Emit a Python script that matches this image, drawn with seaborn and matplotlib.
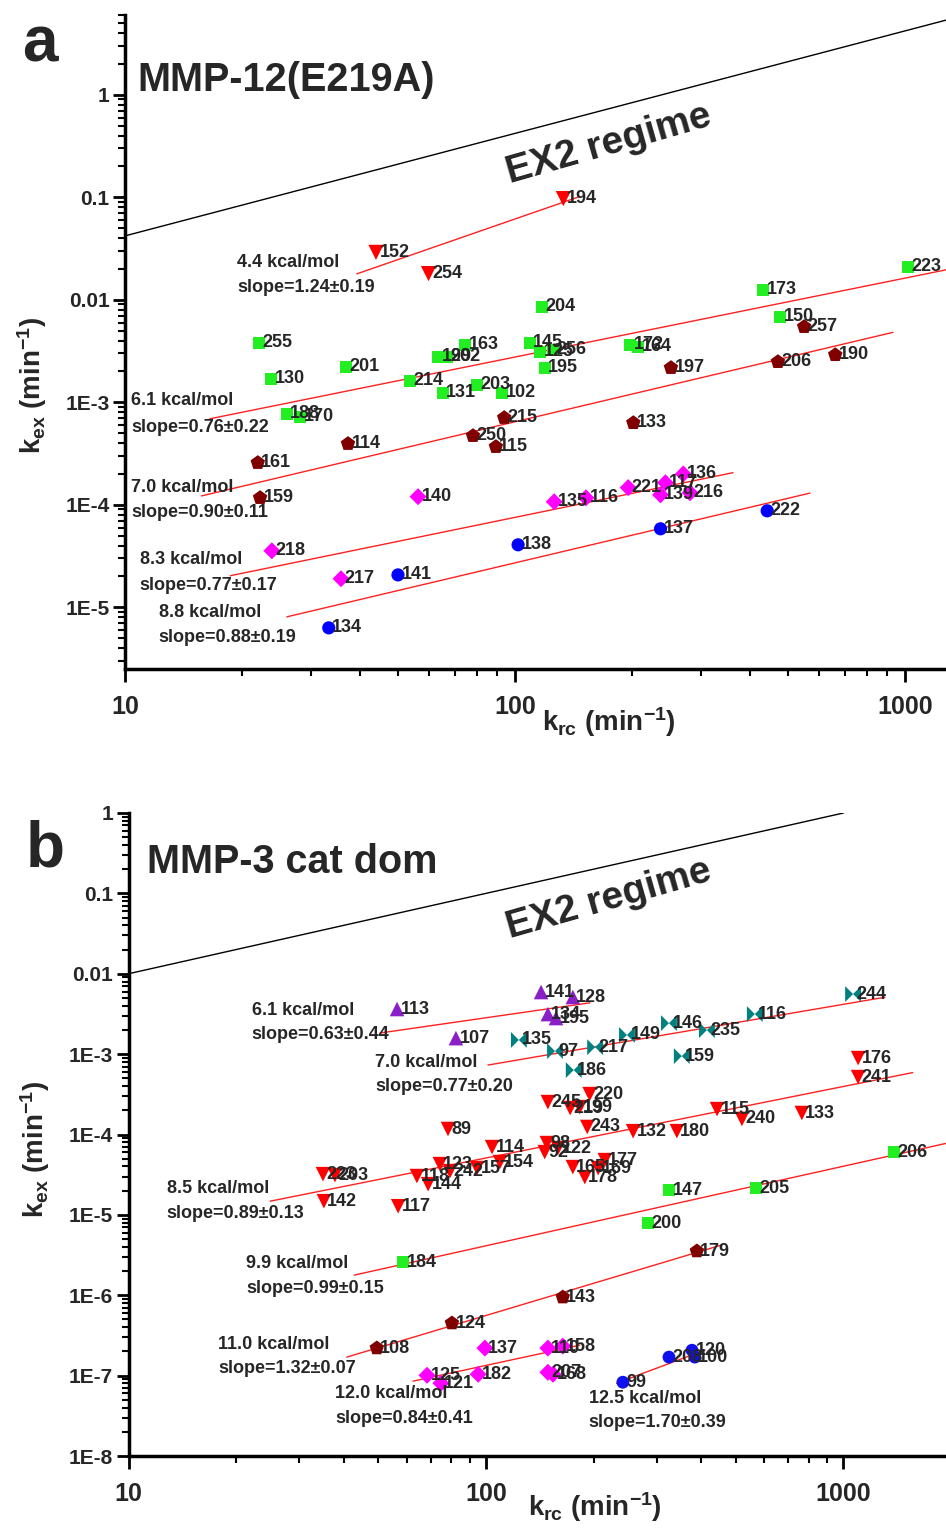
import numpy as np
import pandas as pd
import matplotlib
matplotlib.use("Agg")
import matplotlib.pyplot as plt
from matplotlib.ticker import FixedLocator, LogLocator, FuncFormatter, NullFormatter
import seaborn as sns

# ---------------- panel a : MMP-12(E219A) ----------------
a_group = (["4.4"] * 3 + ["6.1"] * 22 + ["7.0"] * 11 + ["8.3"] * 10 + ["8.8"] * 5)
a_res = [152, 254, 194,
         255, 130, 201, 188, 170, 214, 131, 203, 102, 199, 202, 163, 145, 125, 256, 204, 195, 172, 164, 173, 150, 223,
         161, 159, 114, 215, 250, 115, 133, 197, 206, 190, 257,
         140, 218, 217, 135, 116, 221, 117, 139, 136, 216,
         134, 141, 138, 137, 222]
a_krc = [44, 60, 133,
         22.1, 23.7, 36.9, 26.0, 28.1, 53.8, 65.3, 79.9, 92.7, 63.5, 67.0, 74.5, 109, 116, 125, 117, 119, 197, 207, 432, 478, 1018,
         21.9, 22.2, 37.3, 93.8, 78, 89.3, 201, 251, 472, 662, 551,
         56.4, 23.8, 35.8, 126, 152, 195, 243, 236, 270, 281,
         33.3, 50.1, 101.8, 236, 443]
a_kex = [0.029, 0.018, 0.097,
         3.8e-3, 1.69e-3, 2.22e-3, 7.7e-4, 7.2e-4, 1.62e-3, 1.24e-3, 1.48e-3, 1.24e-3, 2.78e-3, 2.78e-3, 3.64e-3,
         3.8e-3, 3.11e-3, 3.25e-3, 8.55e-3, 2.17e-3, 3.64e-3, 3.48e-3, 1.25e-2, 6.83e-3, 2.1e-2,
         2.57e-4, 1.17e-4, 3.94e-4, 7.06e-4, 4.71e-4, 3.68e-4, 6.3e-4, 2.17e-3, 2.48e-3, 2.9e-3, 5.45e-3,
         1.2e-4, 3.56e-5, 1.9e-5, 1.07e-4, 1.17e-4, 1.47e-4, 1.64e-4, 1.25e-4, 2.0e-4, 1.31e-4,
         6.3e-6, 2.07e-5, 4.07e-5, 5.83e-5, 8.73e-5]

# fit lines: start/end k_rc, k_ex at start, slope
a_fit_x0 = [39.3, 16.5, 15.7, 18.6, 26.0]
a_fit_x1 = [145, 1300, 931, 362, 570]
a_fit_y0 = [0.0179, 6.9e-4, 1.22e-4, 2.03e-5, 8.07e-6]
a_fit_slope = [1.32, 0.77, 0.90, 0.78, 0.90]

a_note1 = ["4.4 kcal/mol", "6.1 kcal/mol", "7.0 kcal/mol", "8.3 kcal/mol", "8.8 kcal/mol"]
a_note2 = ["slope=1.24\u00b10.19", "slope=0.76\u00b10.22", "slope=0.90\u00b10.11",
           "slope=0.77\u00b10.17", "slope=0.88\u00b10.19"]
a_note_x = [19.4, 10.36, 10.36, 10.9, 12.2]
a_note_y1 = [0.023, 1.03e-3, 1.47e-4, 2.9e-5, 8.84e-6]
a_note_y2 = [0.0131, 5.64e-4, 8.36e-5, 1.62e-5, 5.04e-6]

a_ex2_ratio = 0.0042

# ---------------- panel b : MMP-3 cat dom ----------------
b_group = (["6.1"] * 6 + ["7.0"] * 10 + ["8.5"] * 31 + ["9.9"] * 5 + ["11.0"] * 4 + ["12.0"] * 8 + ["12.5"] * 4)
b_res = [113, 107, 141, 128, 134, 195,
         135, 97, 186, 217, 149, 146, 235, 159, 116, 244,
         89, 114, 154, 123, 242, 157, 118, 144, 223, 203, 142, 117, 245, 220, 219, 199, 243, 132, 180, 115,
         240, 133, 98, 92, 122, 165, 177, 169, 178, 176, 241,
         184, 200, 147, 205, 206,
         108, 124, 143, 179,
         125, 121, 182, 137, 110, 158, 207, 168,
         99, 208, 120, 100]
b_krc = [56.4, 82.4, 142.6, 175, 149, 157,
         123.6, 156, 176, 202, 248, 325, 415, 353, 565, 1064,
         78.3, 104, 109.4, 74.3, 79.3, 94.4, 64.1, 68.9, 35, 37.8, 35.2, 56.8, 149, 195, 172, 183, 192, 258, 342, 443,
         520, 765, 148, 146, 159, 175, 215, 206, 189, 1099, 1099,
         58.6, 284, 325, 569, 1384,
         49.5, 80.3, 164, 389,
         68.4, 74.8, 95.1, 99.3, 149, 164, 149, 154,
         241.5, 325, 377, 384]
b_kex = [3.64e-3, 1.58e-3, 5.92e-3, 5.13e-3, 3.15e-3, 2.81e-3,
         1.5e-3, 1.09e-3, 6.33e-4, 1.22e-3, 1.73e-3, 2.43e-3, 1.99e-3, 9.45e-4, 3.15e-3, 5.59e-3,
         1.17e-4, 6.97e-5, 4.54e-5, 4.28e-5, 3.5e-5, 3.82e-5, 3.04e-5, 2.41e-5, 3.21e-5, 3.12e-5, 1.48e-5, 1.28e-5,
         2.53e-4, 3.18e-4, 2.13e-4, 2.19e-4, 1.24e-4, 1.1e-4, 1.1e-4, 2.07e-4, 1.56e-4, 1.85e-4, 7.82e-5, 6.04e-5,
         6.77e-5, 3.93e-5, 4.8e-5, 3.82e-5, 2.95e-5, 8.93e-4, 5.18e-4,
         2.58e-6, 7.89e-6, 2.03e-5, 2.15e-5, 6.04e-5,
         2.2e-7, 4.5e-7, 9.46e-7, 3.54e-6,
         1.01e-7, 8.05e-8, 1.04e-7, 2.2e-7, 2.2e-7, 2.33e-7, 1.1e-7, 1.04e-7,
         8.28e-8, 1.7e-7, 2.07e-7, 1.7e-7]

b_fit_x0 = [50.5, 101.3, 24.9, 42.8, 40.8, 62.5, 232]
b_fit_x1 = [195.4, 1306, 1563, 2000, 457, 183, 410]
b_fit_y0 = [1.83e-3, 7.31e-4, 1.48e-5, 1.78e-6, 1.7e-7, 8.53e-8, 8.05e-8]
b_fit_slope = [0.64, 0.76, 0.89, 0.99, 1.33, 0.96, 1.67]

b_note1 = ["6.1 kcal/mol", "7.0 kcal/mol", "8.5 kcal/mol", "9.9 kcal/mol",
           "11.0 kcal/mol", "12.0 kcal/mol", "12.5 kcal/mol"]
b_note2 = ["slope=0.63\u00b10.44", "slope=0.77\u00b10.20", "slope=0.89\u00b10.13", "slope=0.99\u00b10.15",
           "slope=1.32\u00b10.07", "slope=0.84\u00b10.41", "slope=1.70\u00b10.39"]
b_note_x = [22.1, 49, 12.8, 21.3, 17.8, 37.8, 194]
b_note_y1 = [3.53e-3, 7.96e-4, 2.15e-5, 2.51e-6, 2.46e-7, 6.05e-8, 5.24e-8]
b_note_y2 = [1.73e-3, 4.0e-4, 1.05e-5, 1.22e-6, 1.24e-7, 2.95e-8, 2.64e-8]

b_ex2_ratio = 0.001

# ---------------- styles ----------------
bowtie = [(-1, -1), (-1, 1), (0, 0), (1, 1), (1, -1), (0, 0), (-1, -1)]
a_colors = {"4.4": "#ff0000", "6.1": "#22ee22", "7.0": "#800000", "8.3": "#ff00ff", "8.8": "#0000ff"}
a_markers = {"4.4": "v", "6.1": "s", "7.0": "p", "8.3": "D", "8.8": "o"}
a_sizes = {"4.4": 120, "6.1": 75, "7.0": 120, "8.3": 75, "8.8": 90}
b_colors = {"6.1": "#8a1fc8", "7.0": "#008080", "8.5": "#ff0000", "9.9": "#22ee22",
            "11.0": "#800000", "12.0": "#ff00ff", "12.5": "#1010ee"}
b_markers = {"6.1": "^", "7.0": bowtie, "8.5": "v", "9.9": "s", "11.0": "p", "12.0": "D", "12.5": "o"}
b_sizes = {"6.1": 110, "7.0": 130, "8.5": 110, "9.9": 75, "11.0": 120, "12.0": 75, "12.5": 85}

sns.set_style("ticks")
plt.rcParams["font.family"] = ["Liberation Sans", "DejaVu Sans"]
plt.rcParams["font.weight"] = "bold"
plt.rcParams["mathtext.fontset"] = "custom"
plt.rcParams["mathtext.rm"] = "Liberation Sans:bold"
plt.rcParams["mathtext.it"] = "Liberation Sans:bold"
plt.rcParams["mathtext.bf"] = "Liberation Sans:bold"


def ytick_fmt(v, pos):
    if v >= 0.01:
        return f"{v:g}"
    return f"1E{int(round(np.log10(v)))}"


def draw_panel(ax, df, colors, markers, sizes, fx0, fx1, fy0, fsl, n1, n2, nx, ny1, ny2,
               ex2_ratio, ex2_xmax, xlim, ylim, ydecades):
    for x0, x1, y0, sl in zip(fx0, fx1, fy0, fsl):
        xs = np.array([x0, x1])
        ax.plot(xs, y0 * (xs / x0) ** sl, color="#ff2020", lw=1.0, zorder=1)
    xs = np.array([10, ex2_xmax])
    ax.plot(xs, ex2_ratio * xs, color="black", lw=1.0, zorder=1)

    sns.scatterplot(data=df, x="krc", y="kex", hue="group", style="group", size="group",
                    palette=colors, markers=markers, sizes=sizes, linewidth=0,
                    legend=False, ax=ax, zorder=3)
    for r, x, y in zip(df["res"], df["krc"], df["kex"]):
        ax.annotate(str(r), (x, y), xytext=(2.5, 0), textcoords="offset points",
                    fontsize=13, fontweight="bold", va="center", ha="left", zorder=4)
    for t1, t2, x, y1, y2 in zip(n1, n2, nx, ny1, ny2):
        ax.text(x, y1, t1, fontsize=13, fontweight="bold", va="center", ha="left")
        ax.text(x, y2, t2, fontsize=13, fontweight="bold", va="center", ha="left")

    ax.set_xscale("log")
    ax.set_yscale("log")
    ax.set_xlim(*xlim)
    ax.set_ylim(*ylim)
    ax.xaxis.set_major_locator(FixedLocator([10, 100, 1000]))
    ax.xaxis.set_major_formatter(FuncFormatter(lambda v, p: f"{v:g}"))
    ax.xaxis.set_minor_locator(LogLocator(base=10, subs=np.arange(2, 10), numticks=20))
    ax.xaxis.set_minor_formatter(NullFormatter())
    ax.yaxis.set_major_locator(FixedLocator(ydecades))
    ax.yaxis.set_major_formatter(FuncFormatter(ytick_fmt))
    ax.yaxis.set_minor_locator(LogLocator(base=10, subs=np.arange(2, 10), numticks=30))
    ax.yaxis.set_minor_formatter(NullFormatter())
    ax.tick_params(which="major", direction="out", length=9, width=2, color="black")
    ax.tick_params(which="minor", direction="out", length=5, width=1.5, color="black")
    ax.tick_params(axis="x", which="major", labelsize=18, pad=10)
    ax.tick_params(axis="y", which="major", labelsize=15, pad=2)
    for lab in ax.get_xticklabels() + ax.get_yticklabels():
        lab.set_fontweight("bold")
    sns.despine(ax=ax)
    for sp in ("left", "bottom"):
        ax.spines[sp].set_linewidth(2.5)
        ax.spines[sp].set_color("black")
    ax.set_xlabel(r"$k_{rc}$ (min$^{-1}$)", fontsize=20, fontweight="bold")
    ax.set_ylabel(r"$k_{ex}$ (min$^{-1}$)", fontsize=20, fontweight="bold")
    ax.xaxis.label.set_va("center")
    ax.yaxis.label.set_va("center")


fig = plt.figure(figsize=(9.46, 15.28), dpi=100)
ax_a = fig.add_axes([125 / 946, 1 - 669 / 1528, 821 / 946, 654 / 1528])
ax_b = fig.add_axes([128.5 / 946, 1 - 1456 / 1528, 817.5 / 946, 643 / 1528])

df_a = pd.DataFrame({"group": a_group, "res": a_res, "krc": a_krc, "kex": a_kex})
df_b = pd.DataFrame({"group": b_group, "res": b_res, "krc": b_krc, "kex": b_kex})

draw_panel(ax_a, df_a, a_colors, a_markers, a_sizes, a_fit_x0, a_fit_x1, a_fit_y0, a_fit_slope,
           a_note1, a_note2, a_note_x, a_note_y1, a_note_y2,
           a_ex2_ratio, 1300, (10, 1273), (2.5e-6, 6.0), [1e-5, 1e-4, 1e-3, 1e-2, 1e-1, 1])
draw_panel(ax_b, df_b, b_colors, b_markers, b_sizes, b_fit_x0, b_fit_x1, b_fit_y0, b_fit_slope,
           b_note1, b_note2, b_note_x, b_note_y1, b_note_y2,
           b_ex2_ratio, 1000, (10, 1936), (1e-8, 1.0),
           [1e-8, 1e-7, 1e-6, 1e-5, 1e-4, 1e-3, 1e-2, 1e-1, 1])

ax_a.xaxis.set_label_coords(0.59, -0.081)
ax_a.yaxis.set_label_coords(-0.113, 0.434)
ax_b.xaxis.set_label_coords(0.571, -0.079)
ax_b.yaxis.set_label_coords(-0.114, 0.476)

fig.text(40 / 946, 1 - 45 / 1528, "a", fontsize=46, fontweight="bold", ha="center", va="center")
fig.text(137 / 946, 1 - 80 / 1528, "MMP-12(E219A)", fontsize=28.5, fontweight="bold", ha="left", va="center")
fig.text(609 / 946, 1 - 145 / 1528, "EX2 regime", fontsize=28, fontweight="bold",
         ha="center", va="center", rotation=16, rotation_mode="anchor")
fig.text(45 / 946, 1 - 850 / 1528, "b", fontsize=46, fontweight="bold", ha="center", va="center")
fig.text(147 / 946, 1 - 862 / 1528, "MMP-3 cat dom", fontsize=28.5, fontweight="bold", ha="left", va="center")
fig.text(609 / 946, 1 - 900 / 1528, "EX2 regime", fontsize=28, fontweight="bold",
         ha="center", va="center", rotation=16, rotation_mode="anchor")

fig.savefig("out.png", dpi=100, facecolor="white")
